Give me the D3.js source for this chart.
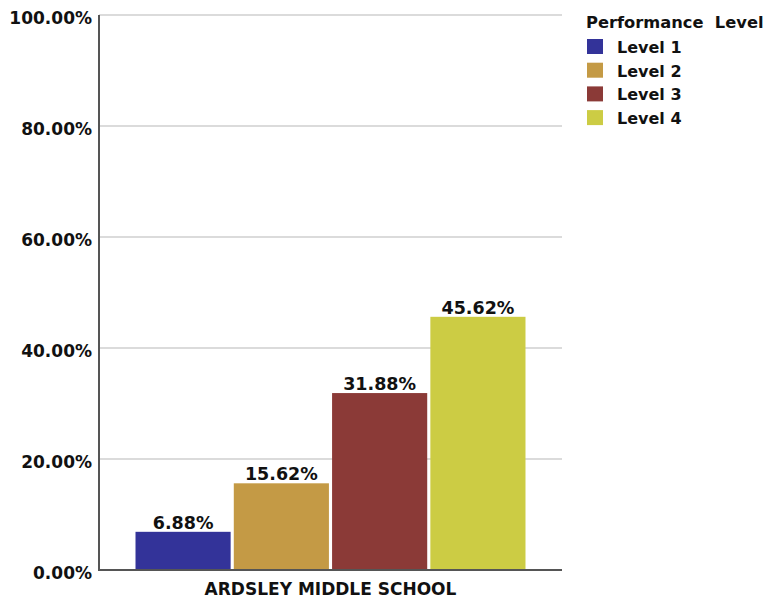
<!DOCTYPE html>
<html><head><meta charset="utf-8">
<script src="https://cdn.jsdelivr.net/npm/d3@7"></script>
<style>body{margin:0;background:#fff}svg{display:block}text{font-family:"DejaVu Sans",Verdana,sans-serif;font-weight:bold;fill:#111}</style>
</head><body>
<script>
const schools = ["ARDSLEY MIDDLE SCHOOL"];
const levels = ["Level 1","Level 2","Level 3","Level 4"];
const values = [6.88, 15.62, 31.88, 45.62];
const colors = ["#333399","#C49A45","#8B3A37","#CCCC44"];
const yTicks = [0,20,40,60,80,100];
const legendTitle = "Performance  Level";

(function(){
const W=769,H=600;
const pLeft=99,pRight=562,pTop=15,pBottom=570;
const svg=d3.select("body").append("svg").attr("width",W).attr("height",H);
const y=d3.scaleLinear().domain([0,100]).range([pBottom,pTop]);
const x0=d3.scaleBand().domain(schools).range([pLeft,pRight]).paddingInner(0).paddingOuter(0.0936);
const x1=d3.scaleBand().domain(levels).range([0,x0.bandwidth()]).paddingInner(0.032).paddingOuter(0);

svg.append("g").selectAll("line").data(yTicks.filter(d=>d>0)).join("line")
 .attr("x1",pLeft).attr("x2",pRight).attr("y1",d=>y(d)).attr("y2",d=>y(d))
 .attr("stroke","#cfcfcf").attr("stroke-width",1.5);

const ya=svg.append("g").attr("transform",`translate(${pLeft},0)`)
 .call(d3.axisLeft(y).tickValues(yTicks).tickSize(0).tickPadding(7).tickFormat(d=>d.toFixed(2)+"%"));
ya.select(".domain").remove();
ya.selectAll("text").attr("font-size",17).attr("dy","0.5em").style("font-family",'"DejaVu Sans",Verdana,sans-serif').style("font-weight","bold").attr("fill","#111");
svg.append("line").attr("x1",pLeft).attr("x2",pLeft).attr("y1",pTop).attr("y2",pBottom+1).attr("stroke","#555").attr("stroke-width",2);

const g=svg.append("g").attr("transform",`translate(${x0(schools[0])},0)`);
g.selectAll("rect").data(values).join("rect")
 .attr("x",(d,i)=>x1(levels[i])).attr("width",x1.bandwidth())
 .attr("y",d=>y(d)).attr("height",d=>y(0)-y(d))
 .attr("fill",(d,i)=>colors[i]);
g.selectAll("text.v").data(values).join("text").attr("class","v")
 .attr("x",(d,i)=>x1(levels[i])+x1.bandwidth()/2).attr("y",d=>y(d)-3)
 .attr("text-anchor","middle").attr("font-size",17.5).text(d=>d.toFixed(2)+"%");

const xa=svg.append("g").attr("transform",`translate(0,${pBottom})`)
 .call(d3.axisBottom(x0).tickSize(0).tickPadding(13));
xa.select(".domain").remove();
xa.selectAll("text").attr("font-size",17).style("font-family",'"DejaVu Sans",Verdana,sans-serif').style("font-weight","bold").attr("fill","#111");
svg.append("line").attr("x1",pLeft).attr("x2",pRight).attr("y1",pBottom).attr("y2",pBottom).attr("stroke","#555").attr("stroke-width",2);

const lg=svg.append("g").attr("transform","translate(586,0)");
lg.append("text").attr("x",0).attr("y",28).attr("font-size",16.3).style("white-space","pre").text(legendTitle);
const items=lg.selectAll("g.it").data(levels).join("g").attr("class","it")
 .attr("transform",(d,i)=>`translate(0,${39+i*23.7})`);
items.append("rect").attr("x",1).attr("y",0).attr("width",16).attr("height",15).attr("fill",(d,i)=>colors[i]);
items.append("text").attr("x",31).attr("y",14).attr("font-size",16).text(d=>d);
})();
</script>
</body></html>
